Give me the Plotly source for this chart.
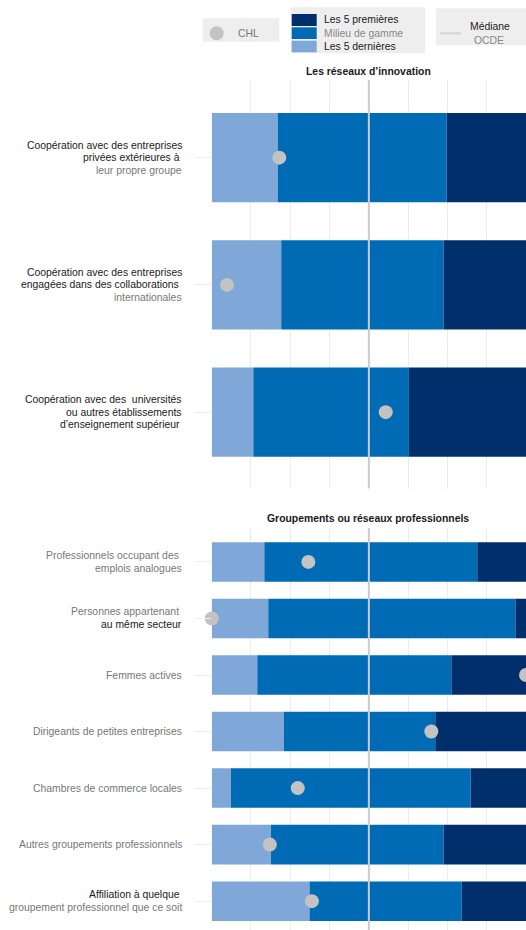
import plotly.graph_objects as go

W, H = 526, 930

# ---------------- data ----------------
top_title = "Les réseaux d’innovation"
top_label_lines = [
    ["Coopération avec des entreprises", "privées extérieures à ", "leur propre groupe"],
    ["Coopération avec des entreprises", "engagées dans des collaborations ", "internationales"],
    ["Coopération avec des  universités", "ou autres établissements", "d’enseignement supérieur "],
]
top_label_dark = [
    [True, True, False],
    [True, True, False],
    [True, True, True],
]
top_last5 = [16.8, 17.7, 10.6]      # upper bound of "Les 5 dernières"
top_mid_end = [59.8, 59.0, 50.2]    # upper bound of "Milieu de gamme"
top_first5_end = [80, 80, 80]       # upper bound of "Les 5 premières"
top_chl = [17.2, 3.9, 44.3]

bot_title = "Groupements ou réseaux professionnels"
bot_label_lines = [
    ["Professionnels occupant des ", "emplois analogues"],
    ["Personnes appartenant ", "au même secteur"],
    ["Femmes actives"],
    ["Dirigeants de petites entreprises"],
    ["Chambres de commerce locales"],
    ["Autres groupements professionnels"],
    ["Affiliation à quelque ", "groupement professionnel que ce soit"],
]
bot_label_dark = [
    [False, False],
    [False, True],
    [False],
    [False],
    [False],
    [False],
    [True, False],
]
bot_last5 = [13.4, 14.4, 11.6, 18.4, 4.9, 15.1, 24.9]
bot_mid_end = [67.6, 77.3, 61.0, 56.9, 65.9, 59.0, 63.6]
bot_first5_end = [80, 80, 80, 80, 80, 80, 80]
bot_chl = [24.6, 0.0, 80.0, 55.9, 21.9, 14.8, 25.5]

oecd_median = 40

legend_series = ["Les 5 premières", "Milieu de gamme", "Les 5 dernières"]
country = "CHL"
median_label = ["Médiane", "OCDE"]

# ---------------- style ----------------
C_LIGHT = "#7fa7d8"
C_MID = "#006bb5"
C_DARK = "#002f6c"
C_DOT = "#c3c3c3"
C_MED = "#cbcbcb"
C_GRID = "#ececec"
C_BLACK = "#1a1a1a"
C_GRAY = "#777777"
FONT = "Liberation Sans, Arial, sans-serif"
FS = 10.4


def px(x):
    return x / W


def py(y):
    return 1 - y / H


fig = go.Figure()

X_DOMAIN = [px(211.7), 1.0]


def add_panel(last5, mid_end, first5_end, chl, xa, ya, yr):
    n = len(last5)
    ys = list(range(n))
    fig.add_trace(go.Bar(y=ys, x=last5, base=[0] * n, orientation="h",
                         marker=dict(color=C_LIGHT, line=dict(width=0)), width=0.7,
                         xaxis=xa, yaxis=ya, showlegend=False, hoverinfo="skip"))
    fig.add_trace(go.Bar(y=ys, x=[m - l for m, l in zip(mid_end, last5)], base=last5,
                         orientation="h", marker=dict(color=C_MID, line=dict(width=0)),
                         width=0.7, xaxis=xa, yaxis=ya, showlegend=False, hoverinfo="skip"))
    fig.add_trace(go.Bar(y=ys, x=[f - m for f, m in zip(first5_end, mid_end)], base=mid_end,
                         orientation="h", marker=dict(color=C_DARK, line=dict(width=0)),
                         width=0.7, xaxis=xa, yaxis=ya, showlegend=False, hoverinfo="skip"))
    fig.add_trace(go.Scatter(x=[oecd_median, oecd_median], y=list(yr), mode="lines",
                             line=dict(color=C_MED, width=2), xaxis=xa, yaxis=ya,
                             showlegend=False, hoverinfo="skip", cliponaxis=True))
    fig.add_trace(go.Scatter(x=chl, y=ys, mode="markers",
                             marker=dict(color=C_DOT, size=14, line=dict(width=0)),
                             xaxis=xa, yaxis=ya, showlegend=False, hoverinfo="skip",
                             cliponaxis=False))


top_range = [2.6, -0.61]
bot_range = [6.51, -0.6]
add_panel(top_last5, top_mid_end, top_first5_end, top_chl, "x", "y", top_range)
add_panel(bot_last5, bot_mid_end, bot_first5_end, bot_chl, "x2", "y2", bot_range)

xcommon = dict(range=[0, 80], dtick=10, tick0=0, showgrid=True, gridcolor=C_GRID,
               gridwidth=1, zeroline=False, showline=False, showticklabels=False,
               ticks="", domain=X_DOMAIN, fixedrange=True)
ycommon = dict(showgrid=False, zeroline=False, showline=False, showticklabels=False,
               ticks="outside", ticklen=16, tickcolor="#eeeeee", tickwidth=1,
               fixedrange=True)

fig.update_layout(
    width=W, height=H,
    margin=dict(l=0, r=0, t=0, b=0),
    paper_bgcolor="white", plot_bgcolor="white",
    barmode="overlay",
    font=dict(family=FONT, size=FS, color=C_BLACK),
    xaxis=dict(**xcommon, anchor="y"),
    yaxis=dict(**ycommon, range=top_range, domain=[py(488.5), py(80)],
               tickvals=list(range(len(top_last5))), anchor="x"),
    xaxis2=dict(**xcommon, anchor="y2"),
    yaxis2=dict(**ycommon, range=bot_range, domain=[0, py(528)],
                tickvals=list(range(len(bot_last5))), anchor="x2"),
)

annotations = []
LABEL_X = px(183.5)


def add_labels(lines_list, dark_list, yref, spacing):
    for i, (lines, darks) in enumerate(zip(lines_list, dark_list)):
        n = len(lines)
        for j, (t, d) in enumerate(zip(lines, darks)):
            annotations.append(dict(
                xref="paper", yref=yref, x=LABEL_X, y=i, xanchor="right", yanchor="middle",
                text=t, showarrow=False, yshift=-(j - (n - 1) / 2) * spacing,
                font=dict(family=FONT, size=FS, color=C_BLACK if d else C_GRAY)))


add_labels(top_label_lines, top_label_dark, "y", 12.4)
add_labels(bot_label_lines, bot_label_dark, "y2", 13)

# panel titles
annotations.append(dict(xref="paper", yref="paper", x=px(368), y=py(71.5), text="<b>" + top_title + "</b>",
                        showarrow=False, xanchor="center", yanchor="middle",
                        font=dict(family=FONT, size=FS, color=C_BLACK)))
annotations.append(dict(xref="paper", yref="paper", x=px(368), y=py(518), text="<b>" + bot_title + "</b>",
                        showarrow=False, xanchor="center", yanchor="middle",
                        font=dict(family=FONT, size=FS, color=C_BLACK)))

# legend
shapes = []
LEG_BG = "#eeeeef"
shapes.append(dict(type="rect", xref="paper", yref="paper", x0=px(202.7), x1=px(279.3),
                   y0=py(41.7), y1=py(18.3), fillcolor=LEG_BG, line=dict(width=0), layer="above"))
shapes.append(dict(type="circle", xref="paper", yref="paper", x0=px(209.7), x1=px(223.7),
                   y0=py(40.3), y1=py(26.3), fillcolor=C_DOT, line=dict(width=0), layer="above"))
annotations.append(dict(xref="paper", yref="paper", x=px(235.5), y=py(33.5), text=country,
                        showarrow=False, xanchor="left", yanchor="middle",
                        font=dict(family=FONT, size=FS, color=C_GRAY)))

shapes.append(dict(type="rect", xref="paper", yref="paper", x0=px(290.7), x1=px(425),
                   y0=py(53.3), y1=py(7.3), fillcolor=LEG_BG, line=dict(width=0), layer="above"))
sw_colors = [C_DARK, C_MID, C_LIGHT]
sw_rows = [(14, 26), (27.3, 39), (40.7, 52.3)]
txt_cols = [C_BLACK, "#888888", C_BLACK]
for name, col, (a, b), tc in zip(legend_series, sw_colors, sw_rows, txt_cols):
    shapes.append(dict(type="rect", xref="paper", yref="paper", x0=px(291.7), x1=px(316.7),
                       y0=py(b), y1=py(a), fillcolor=col, line=dict(width=0), layer="above"))
    annotations.append(dict(xref="paper", yref="paper", x=px(322), y=py((a + b) / 2), text=name,
                            showarrow=False, xanchor="left", yanchor="middle",
                            font=dict(family=FONT, size=FS, color=tc)))

shapes.append(dict(type="rect", xref="paper", yref="paper", x0=px(436), x1=px(526),
                   y0=py(45), y1=py(8.3), fillcolor=LEG_BG, line=dict(width=0), layer="above"))
shapes.append(dict(type="line", xref="paper", yref="paper", x0=px(440), x1=px(461),
                   y0=py(33.3), y1=py(33.3), line=dict(color="#d4d4d4", width=2), layer="above"))
annotations.append(dict(xref="paper", yref="paper", x=px(468), y=py(26.5), text=median_label[0],
                        showarrow=False, xanchor="left", yanchor="middle",
                        font=dict(family=FONT, size=FS, color=C_BLACK)))
annotations.append(dict(xref="paper", yref="paper", x=px(472), y=py(40.5), text=median_label[1],
                        showarrow=False, xanchor="left", yanchor="middle",
                        font=dict(family=FONT, size=FS, color="#888888")))

fig.update_layout(annotations=annotations, shapes=shapes)

fig.write_html("out.html", config={"displayModeBar": False},
               post_script="document.body.style.margin='0';document.body.style.overflow='hidden';")
